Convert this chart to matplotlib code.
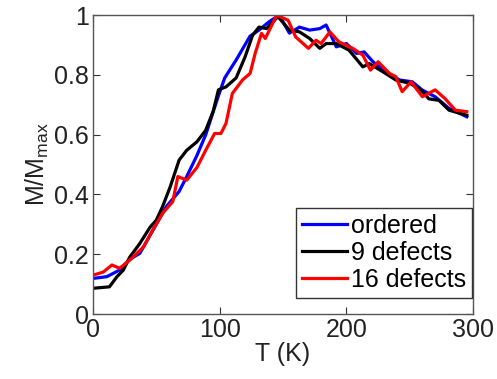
import matplotlib
matplotlib.use("Agg")
import matplotlib.pyplot as plt
from matplotlib.ticker import FuncFormatter

plt.rcParams.update({
    "font.family": ["Liberation Sans", "DejaVu Sans"],
    "mathtext.fontset": "custom",
    "mathtext.rm": "Liberation Sans",
    "mathtext.it": "Liberation Sans:italic",
    "font.size": 18,
})

# temperature (K) and normalised magnetisation
t_ordered = [0, 11, 21, 29, 37, 50, 58, 68, 74, 82, 89, 99, 104, 113, 124, 131, 139, 147,
             155, 163, 171, 179, 184, 192, 200, 208, 214, 221, 231, 242, 252, 260, 270, 281, 295]
m_ordered = [0.119, 0.125, 0.147, 0.183, 0.203, 0.30, 0.36, 0.41, 0.46, 0.53, 0.60, 0.73, 0.79,
             0.85, 0.93, 0.95, 0.978, 1.0, 0.94, 0.96, 0.95, 0.955, 0.967, 0.894, 0.905, 0.872,
             0.877, 0.844, 0.81, 0.783, 0.777, 0.749, 0.727, 0.688, 0.66]

t_9def = [0, 13, 19, 24, 29, 37, 45, 50, 55, 61, 68, 74, 82, 89, 95, 99, 105, 113, 120, 126,
          131, 137, 146, 155, 163, 171, 179, 184, 192, 202, 213, 218, 229, 239, 250, 259, 265,
          273, 281, 295]
m_9def = [0.086, 0.091, 0.125, 0.147, 0.19, 0.236, 0.29, 0.314, 0.36, 0.426, 0.515, 0.548,
          0.576, 0.615, 0.68, 0.75, 0.76, 0.79, 0.86, 0.933, 0.96, 0.955, 0.995, 0.95, 0.944,
          0.922, 0.889, 0.905, 0.905, 0.883, 0.827, 0.838, 0.81, 0.783, 0.772, 0.749, 0.72,
          0.715, 0.682, 0.665]

t_16def = [0, 8, 15, 21, 29, 40, 47, 55, 63, 67, 74, 82, 89, 96, 101, 105, 110, 118, 124, 128,
           133, 136, 145, 154, 160, 170, 176, 180, 187, 194, 205, 213, 219, 225, 234, 239, 244,
           251, 260, 270, 278, 286, 295]
m_16def = [0.13, 0.14, 0.164, 0.153, 0.18, 0.225, 0.28, 0.337, 0.376, 0.46, 0.448, 0.49, 0.548,
           0.604, 0.604, 0.638, 0.738, 0.783, 0.805, 0.872, 0.939, 0.922, 1.0, 0.983, 0.927,
           0.889, 0.916, 0.905, 0.944, 0.911, 0.889, 0.866, 0.816, 0.844, 0.805, 0.794, 0.744,
           0.777, 0.727, 0.75, 0.72, 0.682, 0.677]

labels = ["ordered", "9 defects", "16 defects"]
colors = ["#0000ff", "#000000", "#ff0000"]

fig = plt.figure(figsize=(4.97, 3.79), dpi=100)
ax = fig.add_axes([0.187, 0.1715, 0.765, 0.7885])

for t, m, lab, c in zip([t_ordered, t_9def, t_16def], [m_ordered, m_9def, m_16def], labels, colors):
    ax.plot(t, m, color=c, lw=2.3, label=lab)

ax.set_xlim(0, 300)
ax.set_ylim(0, 1)
ax.set_xticks([0, 100, 200, 300])
ax.set_yticks([0, 0.2, 0.4, 0.6, 0.8, 1])
ax.yaxis.set_major_formatter(FuncFormatter(lambda v, p: f"{v:g}"))
ax.tick_params(direction="in", top=True, right=True, length=5, width=0.8, colors="#333333",
               labelcolor="#222222", pad=3)
for s in ax.spines.values():
    s.set_color("#555555")
    s.set_linewidth(1.0)

ax.set_xlabel("T (K)", labelpad=0, color="#222222")
ax.set_ylabel(r"M/M$_{\rm max}$", labelpad=2, color="#222222")

leg = ax.legend(loc="lower right", bbox_to_anchor=(0.997, 0.053), handlelength=1.8,
                handletextpad=0.15, borderpad=0.25, labelspacing=0.12, fancybox=False,
                borderaxespad=0, framealpha=1)
leg.get_frame().set_edgecolor("#333333")
leg.get_frame().set_linewidth(1.0)

fig.savefig("out.png", dpi=100)
